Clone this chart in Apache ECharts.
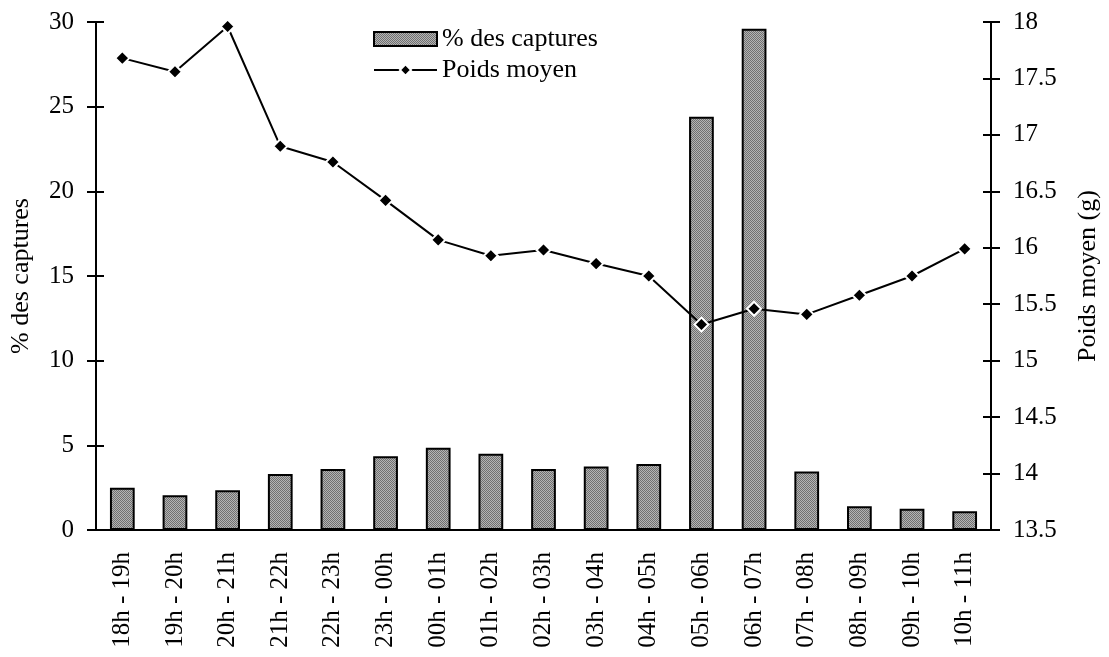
<!DOCTYPE html>
<html>
<head>
<meta charset="utf-8">
<script src="https://cdn.jsdelivr.net/npm/echarts@6/dist/echarts.min.js"></script>
<style>
  html, body { margin: 0; padding: 0; background: #fff; }
  #main { width: 1109px; height: 657px; }
</style>
</head>
<body>
<div id="main"></div>
<script>
var categories = ['18h - 19h', '19h - 20h', '20h - 21h', '21h - 22h', '22h - 23h', '23h - 00h',
  '00h - 01h', '01h - 02h', '02h - 03h', '03h - 04h', '04h - 05h', '05h - 06h',
  '06h - 07h', '07h - 08h', '08h - 09h', '09h - 10h', '10h - 11h'];
var captures = [2.5, 2.05, 2.35, 3.3, 3.6, 4.35, 4.85, 4.5, 3.6, 3.75, 3.9, 24.4, 29.6, 3.45, 1.4, 1.25, 1.1];
var poids = [17.68, 17.56, 17.96, 16.9, 16.76, 16.42, 16.07, 15.93, 15.98, 15.86, 15.75, 15.32, 15.46, 15.41, 15.58, 15.75, 15.99];

// petit motif gris pointillé pour les barres
var pat = document.createElement('canvas');
pat.width = 2; pat.height = 2;
var ctx = pat.getContext('2d');
ctx.fillStyle = '#b4b4b4'; ctx.fillRect(0, 0, 2, 2);
ctx.fillStyle = '#707070'; ctx.fillRect(0, 0, 1, 1); ctx.fillRect(1, 1, 1, 1);

var font = 'Liberation Serif';
var black = { color: '#000', width: 2 };

// axes "fantômes" pour avoir des graduations qui croisent l'axe
function ghostY(min, max, interval, pos) {
  return {
    type: 'value', min: min, max: max, interval: interval, position: pos,
    axisLine: { show: false },
    axisTick: { show: true, inside: true, length: 8, lineStyle: black },
    axisLabel: { show: false },
    splitLine: { show: false }
  };
}

var chart = echarts.init(document.getElementById('main'));
var option = {
  animation: false,
  textStyle: { fontFamily: font, color: '#000' },
  legend: {
    left: 368, top: 21,
    orient: 'vertical',
    itemGap: 5,
    itemWidth: 63, itemHeight: 14,
    textStyle: { fontFamily: font, fontSize: 26, color: '#000' },
    data: [
      { name: '% des captures', icon: 'rect' },
      { name: 'Poids moyen' }
    ]
  },
  grid: { left: 96, right: 116, top: 22, bottom: 127 },
  xAxis: [{
    type: 'category',
    data: categories,
    axisLine: { lineStyle: black },
    axisTick: { length: 9, lineStyle: black },
    axisLabel: { rotate: 90, fontSize: 25, color: '#000', fontFamily: font, margin: 22 }
  }, {
    type: 'category',
    data: categories,
    position: 'bottom',
    axisLine: { show: false },
    axisTick: { inside: true, length: 8, lineStyle: black },
    axisLabel: { show: false }
  }],
  yAxis: [{
    type: 'value', min: 0, max: 30, interval: 5, position: 'left',
    name: '% des captures', nameLocation: 'middle', nameGap: 62, nameRotate: 90,
    nameTextStyle: { fontSize: 26, fontFamily: font, color: '#000' },
    axisLine: { show: true, lineStyle: black },
    axisTick: { show: true, length: 9, lineStyle: black },
    axisLabel: { fontSize: 25, color: '#000', fontFamily: font, margin: 22 },
    splitLine: { show: false }
  }, {
    type: 'value', min: 13.5, max: 18, interval: 0.5, position: 'right',
    name: 'Poids moyen (g)', nameLocation: 'middle', nameGap: 84, nameRotate: 90,
    nameTextStyle: { fontSize: 26, fontFamily: font, color: '#000' },
    axisLine: { show: true, lineStyle: black },
    axisTick: { show: true, length: 9, lineStyle: black },
    axisLabel: { fontSize: 25, color: '#000', fontFamily: font, margin: 22 },
    splitLine: { show: false }
  },
  ghostY(0, 30, 5, 'left'),
  ghostY(13.5, 18, 0.5, 'right')],
  series: [{
    name: '% des captures',
    type: 'bar',
    yAxisIndex: 0,
    barWidth: '47%',
    data: captures,
    itemStyle: { color: { image: pat, repeat: 'repeat' }, borderColor: '#000', borderWidth: 2 }
  }, {
    name: 'Poids moyen',
    type: 'line',
    yAxisIndex: 1,
    data: poids,
    symbol: 'diamond',
    symbolSize: 14,
    lineStyle: { color: '#000', width: 2 },
    itemStyle: { color: '#000', borderColor: '#fff', borderWidth: 2 },
    z: 3
  }]
};
chart.setOption(option);
</script>
</body>
</html>
